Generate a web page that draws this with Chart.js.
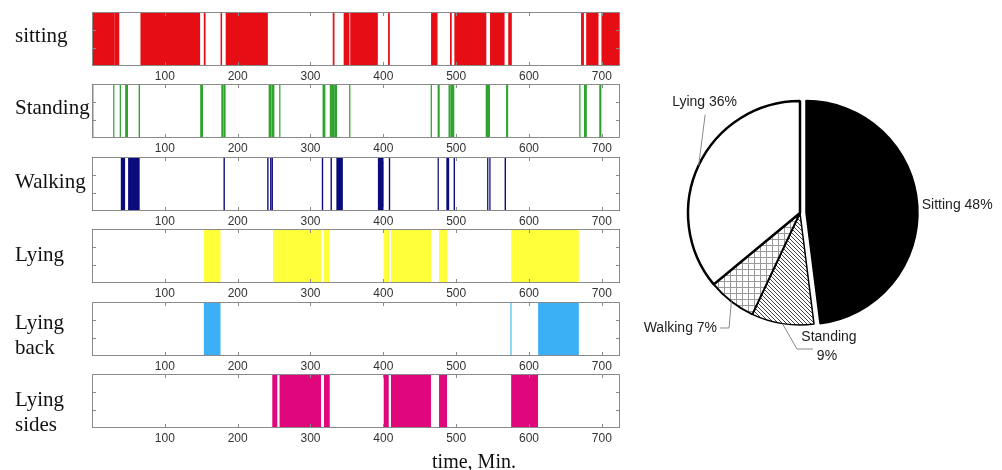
<!DOCTYPE html>
<html lang="en">
<head>
<meta charset="UTF-8">
<script src="https://cdn.jsdelivr.net/npm/chart.js"></script>
<title>Activity timeline</title>
<style>
  body { margin: 0; width: 1002px; height: 470px; background: #fff; position: relative; overflow: hidden; font-family: "Liberation Serif", serif; }
  .painel { position: absolute; left: 0; width: 640px; height: 80px; }
  .rotulo { position: absolute; left: 15px; font-size: 21px; line-height: 25px; color: #111; }
  #pizza { position: absolute; left: 640px; top: 53px; width: 362px; height: 320px; }
  #tempo { position: absolute; left: 374px; width: 200px; top: 449px; text-align: center; font-size: 20px; line-height: 24px; color: #111; }
</style>
</head>
<body>

<div class="painel" style="top:10px"><canvas id="p0"></canvas></div>
<div class="painel" style="top:82px"><canvas id="p1"></canvas></div>
<div class="painel" style="top:155px"><canvas id="p2"></canvas></div>
<div class="painel" style="top:227px"><canvas id="p3"></canvas></div>
<div class="painel" style="top:300px"><canvas id="p4"></canvas></div>
<div class="painel" style="top:372px"><canvas id="p5"></canvas></div>

<div class="rotulo" style="top:23px">sitting</div>
<div class="rotulo" style="top:95px">Standing</div>
<div class="rotulo" style="top:169px">Walking</div>
<div class="rotulo" style="top:242px">Lying</div>
<div class="rotulo" style="top:310px">Lying<br>back</div>
<div class="rotulo" style="top:387px">Lying<br>sides</div>

<div id="tempo">time, Min.</div>

<div id="pizza"><canvas id="pz"></canvas></div>

<script>
// intervalos [inicio, fim] em minutos
const sitting = [[0,30],[31,37],[67,148],[154,155.5],[177,178.2],[184,241],[331,332.5],[346,353],[355,392],
  [407,408.5],[466,474],[492,493.5],[498,541],[547,566],[572,576],[672,675],[679,695],[700,725]];
const standing = [[0,1.5],[29.5,30.3],[38.5,39.3],[46,49],[64.5,65.5],[149,152],[178,180],[181,183],
  [243,246],[247,250],[257.5,258.3],[317,320],[327,329],[330,332],[333,336],[353.5,354.3],
  [465.5,466.3],[475,477],[490,492],[493,497],[541,546],[569,571],[669.5,670.3],[676,679],[697,699]];
const walking = [[40,45],[50,65],[181,182],[241,242],[245,246],[247,248],[316,317],[328,329],[336,344],
  [393,400],[408,409],[475,475.8],[487,490],[497,498],[543,543.8],[546,546.8],[567,568]];
const lying = [[154,176],[249,253.5],[255,314],[319,326],[401,408],[411,465],[477,487],[576,668]];
const lyingBack = [[154,176],[575,575.6],[613,668]];
const lyingSides = [[248,254],[258,314],[319,326],[401,407],[411,465],[477,487],[576,612]];

const xMin = 0;
const xMax = 725;
const xStep = 100;

const pieLabels = ['Sitting', 'Standing', 'Walking', 'Lying'];
const pieValues = [48, 9, 7, 36];

const paineis = [
  { id: 'p0', dados: sitting, cor: '#e60d14' },
  { id: 'p1', dados: standing, cor: '#2ea32e' },
  { id: 'p2', dados: walking, cor: '#0b0b7c' },
  { id: 'p3', dados: lying, cor: '#ffff3a' },
  { id: 'p4', dados: lyingBack, cor: '#3bb0f4' },
  { id: 'p5', dados: lyingSides, cor: '#e0077c' },
];

// moldura cinza com tracinhos para dentro
const moldura = {
  id: 'moldura',
  afterDatasetsDraw(chart) {
    const { ctx, chartArea: a, scales: { x } } = chart;
    ctx.save();
    ctx.strokeStyle = '#8a8a8a';
    ctx.lineWidth = 1;
    ctx.strokeRect(a.left + 0.5, a.top + 0.5, a.width - 1, a.height - 1);
    ctx.beginPath();
    x.ticks.forEach(t => {
      const px = Math.round(x.getPixelForValue(t.value)) + 0.5;
      ctx.moveTo(px, a.top); ctx.lineTo(px, a.top + 4);
      ctx.moveTo(px, a.bottom); ctx.lineTo(px, a.bottom - 4);
    });
    [1 / 3, 2 / 3].forEach(f => {
      const py = Math.round(a.top + a.height * f) + 0.5;
      ctx.moveTo(a.left, py); ctx.lineTo(a.left + 4, py);
      ctx.moveTo(a.right, py); ctx.lineTo(a.right - 4, py);
    });
    ctx.stroke();
    ctx.restore();
  }
};

paineis.forEach(p => {
  new Chart(document.getElementById(p.id), {
    type: 'bar',
    data: {
      labels: ['r'],
      datasets: [{
        data: p.dados.map(iv => ({ x: iv, y: 'r' })),
        backgroundColor: p.cor,
        borderWidth: 0,
        barPercentage: 1,
        categoryPercentage: 1,
      }]
    },
    options: {
      indexAxis: 'y',
      responsive: true,
      maintainAspectRatio: false,
      animation: false,
      layout: { padding: { left: 92, right: 20, top: 2, bottom: 0 } },
      plugins: { legend: { display: false }, tooltip: { enabled: false } },
      scales: {
        x: {
          type: 'linear',
          min: xMin,
          max: xMax,
          grid: { display: false, drawTicks: false },
          border: { display: false },
          ticks: { stepSize: xStep, includeBounds: false, color: '#333', padding: 3, maxRotation: 0,
                   font: { family: 'Liberation Sans', size: 12 } },
          afterBuildTicks: s => { s.ticks = s.ticks.filter(t => t.value > xMin && t.value < xMax); },
          afterFit: s => { s.height = 24; }
        },
        y: { display: false }
      }
    },
    plugins: [moldura]
  });
});

// texturas
function hachura() {
  const c = document.createElement('canvas');
  c.width = 4; c.height = 4;
  const g = c.getContext('2d');
  g.fillStyle = '#fff'; g.fillRect(0, 0, 4, 4);
  g.strokeStyle = '#444'; g.lineWidth = 1;
  g.beginPath();
  g.moveTo(-1, -1); g.lineTo(5, 5);
  g.moveTo(-1, 3); g.lineTo(1, 5);
  g.moveTo(3, -1); g.lineTo(5, 1);
  g.stroke();
  return g.createPattern(c, 'repeat');
}
function quadriculado() {
  const c = document.createElement('canvas');
  c.width = 6; c.height = 6;
  const g = c.getContext('2d');
  g.fillStyle = '#fff'; g.fillRect(0, 0, 6, 6);
  g.strokeStyle = '#9a9a9a'; g.lineWidth = 1;
  g.beginPath();
  g.moveTo(0.5, 0); g.lineTo(0.5, 6);
  g.moveTo(0, 0.5); g.lineTo(6, 0.5);
  g.stroke();
  return g.createPattern(c, 'repeat');
}

// onde fica cada rotulo, relativo ao ponto da borda no meio da fatia
const guias = [
  { textos: [['Sitting 48%', 4, 0]], align: 'left', linha: [] },
  { textos: [['Standing', 46.5, 13.4], ['9%', 44.5, 32.4]], align: 'center', linha: [[0, 0], [14.5, 25.4], [30.5, 25.4]] },
  { textos: [['Walking 7%', -14.3, 26.5]], align: 'right', linha: [[0, 0], [-2.3, 26.5], [-11.3, 26.5]] },
  { textos: [['Lying 36%', -26.5, -63.6]], align: 'left', linha: [[0, 0], [6.5, -50.6]] },
];

const destaque = 6;

const rotulosPizza = {
  id: 'rotulosPizza',
  afterUpdate(chart) {
    // fatia Sitting puxada pra fora
    const arc = chart.getDatasetMeta(0).data[0];
    const m = (arc.startAngle + arc.endAngle) / 2;
    arc.x += Math.cos(m) * destaque;
    arc.y += Math.sin(m) * destaque;
  },
  afterDraw(chart) {
    const ctx = chart.ctx;
    const arcs = chart.getDatasetMeta(0).data;
    ctx.save();
    ctx.font = '14px "Liberation Sans"';
    ctx.fillStyle = '#222';
    ctx.strokeStyle = '#888';
    ctx.lineWidth = 1;
    ctx.textBaseline = 'middle';
    arcs.forEach((arc, i) => {
      const m = (arc.startAngle + arc.endAngle) / 2;
      const ax = arc.x + Math.cos(m) * arc.outerRadius;
      const ay = arc.y + Math.sin(m) * arc.outerRadius;
      const g = guias[i];
      if (g.linha.length) {
        ctx.beginPath();
        g.linha.forEach(([dx, dy], k) => {
          if (k === 0) ctx.moveTo(ax + dx, ay + dy); else ctx.lineTo(ax + dx, ay + dy);
        });
        ctx.stroke();
      }
      ctx.textAlign = g.align;
      g.textos.forEach(([t, dx, dy]) => ctx.fillText(t, ax + dx, ay + dy));
    });
    ctx.restore();
  }
};

new Chart(document.getElementById('pz'), {
  type: 'pie',
  data: {
    labels: pieLabels,
    datasets: [{
      data: pieValues,
      backgroundColor: ['#000', hachura(), quadriculado(), '#fff'],
      borderColor: '#000',
      borderWidth: [1.5, 1.5, 2, 2.5],
      radius: 112,
    }]
  },
  options: {
    responsive: true,
    maintainAspectRatio: false,
    animation: false,
    layout: { padding: { left: 0, right: 42, top: 0, bottom: 0 } },
    plugins: { legend: { display: false }, tooltip: { enabled: false } }
  },
  plugins: [rotulosPizza]
});
</script>
</body>
</html>
